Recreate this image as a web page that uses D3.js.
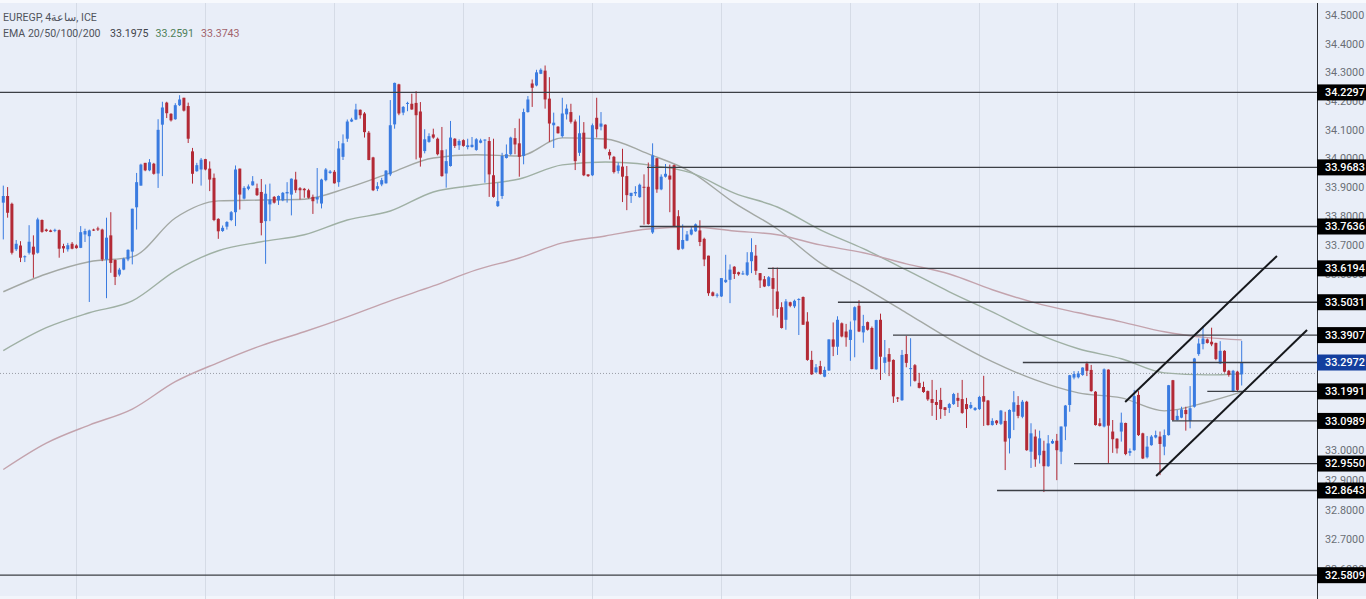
<!doctype html>
<html>
  <head>
    <meta charset="utf-8">
    <script src="https://d3js.org/d3.v7.min.js" charset="utf-8"></script>
    <style>
      html, body { margin: 0; padding: 0; background: #e9eef8; overflow: hidden; }
      text { font-family: Roboto, "Noto Sans", sans-serif; }
    </style>
  </head>

  <body>
    <script>

// EUR/EGP 4h candles
var candleOpen = [
  33.846,33.869,33.842,33.685,33.698,33.659,33.673,33.694,33.673,33.786,
  33.753,33.750,33.749,33.751,33.696,33.685,33.704,33.698,33.690,33.736,
  33.730,33.753,33.757,33.753,33.650,33.733,33.648,33.598,33.615,33.650,
  33.677,33.830,33.905,33.984,33.958,33.981,33.947,34.117,34.194,34.155,
  34.136,34.185,34.211,34.182,34.024,33.955,33.961,33.997,33.964,33.932,
  33.790,33.748,33.763,33.786,33.813,33.964,33.860,33.894,33.906,33.896,
  33.883,33.782,33.840,33.866,33.854,33.854,33.878,33.874,33.926,33.896,
  33.894,33.889,33.866,33.857,33.843,33.924,33.949,33.953,33.917,34.005,
  34.068,34.128,34.135,34.169,34.156,34.089,34.003,33.894,33.909,33.913,
  33.944,34.118,34.258,34.159,34.190,34.190,34.193,34.163,34.025,34.057,
  34.083,34.068,34.028,33.947,33.973,34.068,34.045,34.063,34.039,34.039,
  34.029,34.054,34.063,34.060,33.941,33.834,33.869,34.001,34.014,34.070,
  34.052,34.008,34.161,34.261,34.254,34.295,34.306,34.208,34.115,34.110,
  34.077,34.153,34.161,34.128,34.019,34.089,33.944,33.941,34.141,34.110,
  34.117,34.022,34.005,33.956,33.971,33.938,33.869,33.878,33.865,33.901,
  33.901,33.743,34.000,33.892,33.936,33.940,33.976,33.799,33.687,33.715,
  33.736,33.747,33.750,33.721,33.663,33.537,33.526,33.523,33.572,33.580,
  33.625,33.606,33.599,33.597,33.644,33.663,33.603,33.582,33.559,33.586,
  33.540,33.486,33.443,33.503,33.489,33.512,33.521,33.437,33.306,33.264,
  33.285,33.249,33.270,33.376,33.351,33.431,33.403,33.374,33.441,33.491,
  33.400,33.435,33.415,33.274,33.443,33.296,33.326,33.306,33.178,33.169,
  33.326,33.276,33.288,33.228,33.214,33.200,33.173,33.163,33.170,33.145,
  33.143,33.156,33.177,33.173,33.156,33.143,33.136,33.139,33.183,33.168,
  33.085,33.100,33.089,33.099,33.040,33.130,33.153,33.113,33.164,32.995,
  33.046,32.983,32.998,32.946,33.023,33.032,32.995,33.080,33.153,33.246,
  33.247,33.255,33.294,33.272,33.198,33.091,33.080,33.273,33.063,33.039,
  33.063,33.092,32.991,33.000,33.187,33.057,32.976,33.017,33.043,33.046,
  33.012,33.051,33.237,33.102,33.110,33.136,33.099,33.147,33.326,33.360,
  33.376,33.368,33.364,33.294,33.337,33.269,33.198,33.266,33.257
];
var candleHigh = [
  33.905,33.900,33.846,33.717,33.713,33.664,33.768,33.733,33.794,33.788,
  33.756,33.753,33.756,33.753,33.704,33.707,33.710,33.702,33.765,33.756,
  33.753,33.756,33.763,33.756,33.794,33.813,33.650,33.621,33.656,33.685,
  33.825,33.949,33.981,33.984,33.997,33.984,34.136,34.197,34.197,34.157,
  34.192,34.220,34.211,34.194,34.036,33.984,34.001,33.998,33.989,33.947,
  33.792,33.767,33.782,33.817,33.975,33.964,33.903,33.909,33.938,33.912,
  33.928,33.909,33.912,33.869,33.871,33.883,33.917,33.930,33.953,33.900,
  33.897,33.894,33.874,33.966,33.929,33.966,33.959,33.959,34.060,34.083,
  34.135,34.141,34.190,34.170,34.161,34.095,34.005,33.917,33.932,33.959,
  34.203,34.264,34.260,34.182,34.197,34.225,34.234,34.196,34.101,34.087,
  34.103,34.072,34.109,34.031,34.130,34.070,34.066,34.066,34.068,34.074,
  34.070,34.068,34.066,34.074,34.068,33.915,34.019,34.048,34.075,34.105,
  34.138,34.173,34.217,34.275,34.309,34.314,34.324,34.283,34.159,34.112,
  34.211,34.188,34.190,34.135,34.149,34.126,33.944,34.121,34.211,34.161,
  34.118,34.031,34.008,33.985,34.033,33.973,33.880,33.903,33.912,33.944,
  33.985,34.052,34.001,33.944,33.980,33.978,33.978,33.820,33.771,33.748,
  33.763,33.774,33.785,33.725,33.663,33.540,33.534,33.586,33.666,33.633,
  33.627,33.608,33.611,33.675,33.723,33.700,33.603,33.593,33.593,33.623,
  33.622,33.503,33.514,33.505,33.512,33.517,33.523,33.469,33.337,33.292,
  33.303,33.283,33.376,33.434,33.455,33.434,33.429,33.437,33.489,33.510,
  33.460,33.437,33.420,33.443,33.464,33.374,33.346,33.308,33.180,33.340,
  33.388,33.380,33.292,33.262,33.232,33.202,33.238,33.204,33.211,33.146,
  33.160,33.194,33.194,33.238,33.177,33.163,33.146,33.184,33.252,33.170,
  33.108,33.102,33.136,33.130,33.138,33.200,33.183,33.170,33.167,33.091,
  33.070,33.066,33.032,33.051,33.037,33.055,33.080,33.153,33.255,33.268,
  33.268,33.281,33.300,33.289,33.200,33.108,33.277,33.274,33.102,33.040,
  33.127,33.093,33.006,33.204,33.200,33.059,33.048,33.051,33.066,33.063,
  33.070,33.221,33.238,33.136,33.147,33.147,33.217,33.313,33.379,33.419,
  33.379,33.416,33.365,33.370,33.339,33.272,33.272,33.269,33.371
];
var candleLow = [
  33.719,33.794,33.667,33.679,33.641,33.641,33.667,33.587,33.670,33.742,
  33.745,33.744,33.744,33.656,33.673,33.677,33.685,33.687,33.689,33.710,
  33.504,33.748,33.748,33.644,33.517,33.604,33.562,33.592,33.613,33.644,
  33.633,33.753,33.905,33.955,33.955,33.943,33.897,33.938,34.140,34.128,
  34.134,34.182,34.163,34.053,33.912,33.953,33.905,33.958,33.886,33.782,
  33.721,33.745,33.753,33.782,33.765,33.822,33.857,33.889,33.905,33.869,
  33.733,33.635,33.782,33.843,33.838,33.851,33.846,33.802,33.880,33.857,
  33.863,33.860,33.807,33.843,33.826,33.920,33.946,33.912,33.901,33.994,
  34.057,34.126,34.133,34.138,34.072,33.993,33.886,33.886,33.903,33.912,
  33.938,34.103,34.150,34.150,34.164,34.169,33.996,33.971,34.017,34.054,
  34.068,34.010,33.936,33.898,33.971,34.036,34.029,34.040,34.031,34.037,
  34.026,34.052,33.915,33.866,33.863,33.831,33.859,33.999,34.010,34.014,
  33.936,33.979,34.159,34.179,34.251,34.294,34.173,34.057,34.036,34.086,
  34.072,34.135,34.121,33.959,34.008,33.938,33.935,33.938,34.072,34.097,
  34.031,33.996,33.947,33.947,33.848,33.820,33.845,33.869,33.863,33.770,
  33.770,33.738,33.880,33.889,33.933,33.813,33.762,33.682,33.684,33.713,
  33.733,33.745,33.696,33.627,33.525,33.523,33.519,33.521,33.569,33.500,
  33.583,33.594,33.597,33.593,33.603,33.597,33.552,33.555,33.557,33.457,
  33.451,33.413,33.409,33.486,33.483,33.391,33.426,33.303,33.255,33.261,
  33.256,33.247,33.269,33.319,33.323,33.383,33.351,33.303,33.315,33.401,
  33.365,33.406,33.274,33.273,33.238,33.262,33.251,33.160,33.163,33.167,
  33.281,33.216,33.232,33.209,33.194,33.167,33.116,33.102,33.106,33.116,
  33.126,33.153,33.146,33.123,33.075,33.139,33.133,33.136,33.082,33.083,
  33.083,33.085,33.085,32.933,32.989,33.068,33.108,33.108,32.998,32.940,
  32.944,32.955,32.859,32.944,33.021,32.899,32.953,33.034,33.130,33.240,
  33.243,33.252,33.251,33.198,33.083,33.080,33.077,32.957,32.991,32.989,
  33.029,32.983,32.981,32.998,33.048,32.970,32.972,33.015,33.040,32.916,
  32.983,33.049,33.099,33.100,33.108,33.066,33.074,33.144,33.320,33.342,
  33.362,33.353,33.305,33.292,33.263,33.249,33.196,33.200,33.219
];
var candleClose = [
  33.869,33.811,33.673,33.704,33.656,33.661,33.711,33.667,33.788,33.745,
  33.748,33.745,33.752,33.687,33.688,33.699,33.687,33.689,33.744,33.748,
  33.750,33.750,33.753,33.650,33.725,33.638,33.590,33.615,33.653,33.683,
  33.825,33.917,33.978,33.958,33.986,33.946,34.099,34.177,34.157,34.132,
  34.185,34.205,34.166,34.068,33.946,33.976,33.995,33.961,33.926,33.786,
  33.747,33.759,33.779,33.813,33.961,33.874,33.897,33.902,33.920,33.872,
  33.776,33.877,33.857,33.846,33.869,33.880,33.883,33.929,33.889,33.889,
  33.889,33.863,33.851,33.865,33.926,33.961,33.954,33.913,34.034,34.052,
  34.128,34.135,34.170,34.150,34.091,33.994,33.889,33.903,33.924,33.957,
  34.115,34.263,34.156,34.179,34.193,34.170,34.150,34.002,34.066,34.077,
  34.072,34.014,33.938,33.990,34.072,34.043,34.060,34.043,34.045,34.047,
  34.066,34.062,34.065,33.944,33.866,33.851,34.008,34.014,34.072,34.048,
  34.005,34.161,34.205,34.246,34.300,34.309,34.205,34.121,34.124,34.087,
  34.156,34.173,34.127,33.990,34.087,33.941,33.938,34.115,34.101,34.121,
  34.034,34.010,33.952,33.975,33.936,33.872,33.880,33.883,33.908,33.898,
  33.772,34.010,33.892,33.936,33.946,33.926,33.763,33.684,33.717,33.736,
  33.753,33.771,33.710,33.650,33.534,33.525,33.529,33.586,33.580,33.615,
  33.600,33.599,33.602,33.640,33.675,33.611,33.578,33.557,33.589,33.549,
  33.480,33.415,33.506,33.491,33.508,33.514,33.426,33.306,33.257,33.281,
  33.258,33.272,33.376,33.351,33.443,33.386,33.383,33.409,33.486,33.403,
  33.422,33.409,33.275,33.442,33.317,33.315,33.300,33.182,33.175,33.323,
  33.296,33.278,33.235,33.211,33.197,33.172,33.160,33.153,33.139,33.136,
  33.156,33.190,33.167,33.126,33.139,33.153,33.143,33.180,33.164,33.085,
  33.099,33.091,33.134,33.029,33.136,33.162,33.116,33.164,33.000,33.057,
  32.969,33.040,32.946,33.023,33.031,33.000,33.080,33.151,33.254,33.258,
  33.260,33.280,33.269,33.200,33.085,33.082,33.274,33.083,33.037,33.006,
  33.093,32.987,32.997,33.183,33.051,32.972,33.012,33.046,33.051,33.021,
  33.051,33.220,33.102,33.116,33.138,33.122,33.142,33.311,33.362,33.379,
  33.364,33.359,33.309,33.337,33.266,33.255,33.269,33.204,33.298
];

// moving averages, read every 10 candles
var emaIndex = [0,10,20,30,40,50,60,70,80,90,100,110,120,130,140,150,160,170,180,190,200,210,220,230,240,250,260,270,280,288];
var ema20 = [33.539,33.600,33.642,33.659,33.793,33.852,33.855,33.858,33.897,33.949,34.001,34.012,34.008,34.071,34.067,34.015,33.952,33.845,33.755,33.638,33.555,33.467,33.378,33.300,33.238,33.194,33.177,33.133,33.163,33.1975];
var ema50 = [33.338,33.416,33.467,33.508,33.611,33.680,33.711,33.735,33.786,33.817,33.883,33.907,33.928,33.977,33.987,33.977,33.949,33.879,33.831,33.752,33.687,33.614,33.539,33.470,33.398,33.344,33.310,33.262,33.255,33.2591];
var ema200 = [32.935,33.024,33.085,33.139,33.232,33.297,33.355,33.402,33.453,33.508,33.559,33.614,33.655,33.707,33.731,33.755,33.762,33.748,33.735,33.700,33.673,33.635,33.600,33.546,33.501,33.467,33.436,33.402,33.382,33.3743];

// price axis
var tickValues = [34.5,34.4,34.3,34.2,34.1,34.0,33.9,33.8,33.7,33.6,33.5,33.4,33.3,33.2,33.1,33.0,32.9,32.8,32.7,32.6];

// horizontal levels: price and the candle each one starts at
var levelPrice = [34.2297,33.9683,33.7636,33.6194,33.5031,33.3907,33.2972,33.1991,33.0989,32.9550,32.8643,32.5809];
var levelStart = [-1,149.7,148,177.8,194.1,206.9,237.1,280,271.8,249,231.1,-1];
var lastPrice = 33.2972;
var dottedPrice = 33.26;

// channel lines: candle index, price at each end
var channelIndex = [[260.9,296.2],[268.1,303.2]];
var channelPrice = [[33.163,33.662],[32.913,33.408]];

// vertical grid sits on these candles
var gridIndex = [17,47,77,107,137,167,197,227,245,263,287];

var width = 1366, height = 599, plotRight = 1317;

var x = d3.scaleLinear().domain([0, 288]).range([3.3, 1241.7]);
var y = d3.scaleLog().domain([32.7, 34.5]).range([539.5, 15.5]);

var svg = d3.select("body").append("svg")
  .attr("width", width)
  .attr("height", height)
  .style("display", "block");

svg.append("rect").attr("width", width).attr("height", height).attr("fill", "#e9eef8");
// pale strips at top and bottom of the screenshot
svg.append("rect").attr("width", width).attr("height", 3).attr("fill", "#f7f9fd");
svg.append("rect").attr("y", 596).attr("width", width).attr("height", 3).attr("fill", "#f2f5fb");

svg.append("defs").append("clipPath").attr("id", "plot")
  .append("rect").attr("x", 0).attr("y", 3).attr("width", plotRight).attr("height", height - 3);

var plot = svg.append("g").attr("clip-path", "url(#plot)");

plot.selectAll("line.grid")
  .data(gridIndex)
  .enter().append("line")
    .classed("grid", true)
    .attr("x1", function(d) { return Math.round(x(d)) + 0.5; })
    .attr("x2", function(d) { return Math.round(x(d)) + 0.5; })
    .attr("y1", 3)
    .attr("y2", height)
    .attr("stroke", "#d5dbe6")
    .attr("stroke-width", 1);

plot.append("line")
  .attr("x1", 0).attr("x2", plotRight)
  .attr("y1", y(dottedPrice)).attr("y2", y(dottedPrice))
  .attr("stroke", "#9a9ea6")
  .attr("stroke-width", 1)
  .attr("stroke-dasharray", "1,2");

// moving averages
var emaLine = d3.line()
  .x(function(d, i) { return x(emaIndex[i]); })
  .y(function(d) { return y(d); })
  .curve(d3.curveMonotoneX);

var emaStroke = ["#a3a8a4", "#9fb0a4", "#c3a3ad"];
[ema20, ema50, ema200].forEach(function(series, i) {
  plot.append("path")
    .attr("d", emaLine(series))
    .attr("fill", "none")
    .attr("stroke", emaStroke[i])
    .attr("stroke-width", 1.4);
});

// candles
var candles = plot.selectAll("g.candle")
  .data(d3.range(candleOpen.length))
  .enter().append("g")
    .classed("candle", true);

function candleColor(i) {
  return candleClose[i] >= candleOpen[i] ? "#3a7be0" : "#b32a36";
}

candles.append("line")
  .attr("x1", function(i) { return x(i); })
  .attr("x2", function(i) { return x(i); })
  .attr("y1", function(i) { return y(candleHigh[i]); })
  .attr("y2", function(i) { return y(candleLow[i]); })
  .attr("stroke", candleColor)
  .attr("stroke-width", 1);

candles.append("rect")
  .attr("x", function(i) { return x(i) - 1.5; })
  .attr("width", 3)
  .attr("y", function(i) { return y(Math.max(candleOpen[i], candleClose[i])); })
  .attr("height", function(i) {
    return Math.max(1, Math.abs(y(candleOpen[i]) - y(candleClose[i])));
  })
  .attr("fill", candleColor);

// horizontal levels
plot.selectAll("line.level")
  .data(levelPrice)
  .enter().append("line")
    .classed("level", true)
    .attr("x1", function(d, i) { return levelStart[i] < 0 ? 0 : x(levelStart[i]); })
    .attr("x2", plotRight)
    .attr("y1", function(d) { return y(d); })
    .attr("y2", function(d) { return y(d); })
    .attr("stroke", "#3c3f45")
    .attr("stroke-width", 1.3);

// rising channel
plot.selectAll("line.channel")
  .data(channelIndex)
  .enter().append("line")
    .classed("channel", true)
    .attr("x1", function(d) { return x(d[0]); })
    .attr("x2", function(d) { return x(d[1]); })
    .attr("y1", function(d, i) { return y(channelPrice[i][0]); })
    .attr("y2", function(d, i) { return y(channelPrice[i][1]); })
    .attr("stroke", "#16181c")
    .attr("stroke-width", 2);

// price scale on the right
var axis = svg.append("g")
  .attr("transform", "translate(" + plotRight + ",0)")
  .call(d3.axisRight(y)
    .tickValues(tickValues)
    .tickSize(0)
    .tickPadding(8)
    .tickFormat(d3.format(".4f")));

axis.select(".domain").remove();
axis.selectAll("text")
  .attr("fill", "#6a6e76")
  .style("font-size", "10.8px")
  .style("font-family", "Roboto, sans-serif");

svg.append("line")
  .attr("x1", plotRight + 0.5).attr("x2", plotRight + 0.5)
  .attr("y1", 3).attr("y2", height)
  .attr("stroke", "#2b2e33")
  .attr("stroke-width", 1);

// price tags over the scale
var tags = svg.selectAll("g.tag")
  .data(levelPrice)
  .enter().append("g")
    .classed("tag", true)
    .attr("transform", function(d) { return "translate(" + plotRight + "," + y(d) + ")"; });

tags.append("rect")
  .attr("x", 0)
  .attr("y", -8)
  .attr("width", width - plotRight)
  .attr("height", 16)
  .attr("fill", function(d) { return d === lastPrice ? "#143f9e" : "#000"; });

tags.append("text")
  .attr("x", 8)
  .attr("dy", "0.35em")
  .attr("fill", "#fff")
  .style("font-size", "10.8px")
  .style("font-weight", 500)
  .text(function(d) { return d3.format(".4f")(d); });

// header text
svg.append("text")
  .attr("x", 3).attr("y", 21)
  .attr("fill", "#50545c")
  .style("font-size", "10.6px")
  .text("EUREGP, 4ساعة, ICE");

var legend = [
  { label: "EMA 20/50/100/200", x: 3, fill: "#50545c" },
  { label: d3.format(".4f")(ema20[ema20.length - 1]), x: 110, fill: "#3f434a" },
  { label: d3.format(".4f")(ema50[ema50.length - 1]), x: 155.5, fill: "#4f8058" },
  { label: d3.format(".4f")(ema200[ema200.length - 1]), x: 201, fill: "#a2636c" }
];

svg.selectAll("text.legend")
  .data(legend)
  .enter().append("text")
    .classed("legend", true)
    .attr("x", function(d) { return d.x; })
    .attr("y", 36.5)
    .attr("fill", function(d) { return d.fill; })
    .style("font-size", "10.6px")
    .text(function(d) { return d.label; });

    </script>
  </body>

</html>
